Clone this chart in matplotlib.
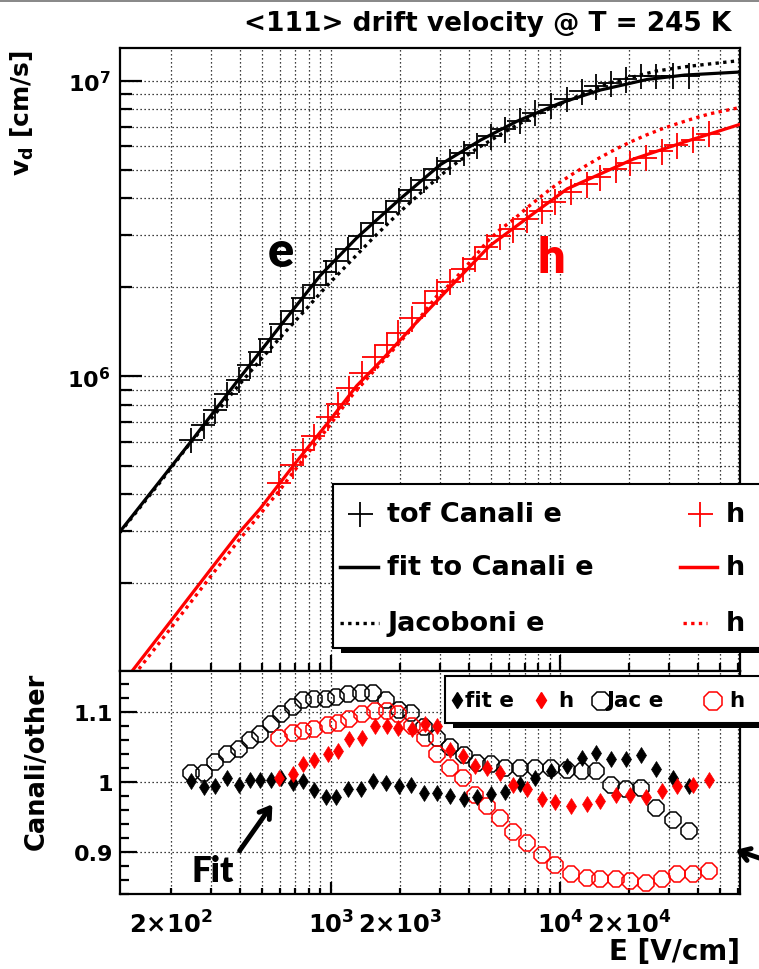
import numpy as np
import matplotlib
matplotlib.use('Agg')
import matplotlib.pyplot as plt
from matplotlib.patches import Rectangle
from matplotlib.lines import Line2D
from matplotlib.ticker import FixedLocator, NullFormatter, FuncFormatter, FixedFormatter

plt.rcParams['font.family'] = ['DejaVu Sans']
plt.rcParams['font.weight'] = 'bold'
plt.rcParams['mathtext.fontset'] = 'dejavusans'

# ---------------- data ----------------
# Canali time-of-flight data, electrons
E_e = np.array([246, 279, 313, 350, 395, 442, 492, 546, 607, 684, 757, 847, 951, 1051, 1186,
                1346, 1521, 1730, 1976, 2235, 2560, 2915, 3309, 3790, 4340, 4995, 5750, 6690,
                7780, 9135, 10700, 12440, 14420, 16700, 19420, 22580, 26330, 31250, 36570])
v_e = np.array([6.11e5, 6.85e5, 7.7e5, 8.7e5, 9.76e5, 1.093e6, 1.214e6, 1.344e6, 1.5e6, 1.67e6,
                1.84e6, 2.035e6, 2.25e6, 2.45e6, 2.70e6, 2.99e6, 3.3e6, 3.6e6, 3.93e6, 4.28e6,
                4.62e6, 5.02e6, 5.34e6, 5.7e6, 6.06e6, 6.48e6, 6.85e6, 7.33e6, 7.8e6, 8.27e6,
                8.69e6, 9.2e6, 9.58e6, 9.8e6, 1.011e7, 1.038e7, 1.038e7, 1.04e7, 1.041e7])
# Canali time-of-flight data, holes
E_h = np.array([595, 680, 757, 843, 973, 1076, 1198, 1362, 1557, 1751, 1967, 2251, 2573, 2895,
                3309, 3783, 4255, 4786, 5470, 6254, 7177, 8318, 9511, 11170, 13080, 14950,
                17560, 20220, 23750, 27810, 32330, 38200, 44740])
v_h = np.array([4.37e5, 5.02e5, 5.64e5, 6.29e5, 7.28e5, 8.08e5, 9.15e5, 1.029e6, 1.162e6,
                1.279e6, 1.408e6, 1.572e6, 1.767e6, 1.944e6, 2.092e6, 2.31e6, 2.50e6, 2.75e6,
                2.98e6, 3.15e6, 3.40e6, 3.63e6, 3.90e6, 4.22e6, 4.47e6, 4.71e6, 5.02e6, 5.28e6,
                5.50e6, 5.77e6, 6.05e6, 6.32e6, 6.62e6])

# fit to Canali (curves)
E_fit_e = np.array([120, 180, 250, 400, 600, 900, 1300, 2000, 3000, 4500, 6500, 10000, 15000,
                    24000, 35000, 61000])
v_fit_e = np.array([2.99e5, 4.45e5, 6.15e5, 9.9e5, 1.48e6, 2.2e6, 2.95e6, 3.98e6, 5.2e6, 6.3e6,
                    7.3e6, 8.4e6, 9.3e6, 1.01e7, 1.045e7, 1.07e7])
E_fit_h = np.array([120, 200, 300, 401, 490, 700, 973, 1295, 1637, 2280, 3300, 4943, 7000,
                    10740, 20860, 35000, 61000])
v_fit_h = np.array([8.94e4, 1.49e5, 2.24e5, 2.99e5, 3.57e5, 5.1e5, 7.0e5, 9.3e5, 1.12e6, 1.48e6,
                    2.0e6, 2.77e6, 3.38e6, 4.31e6, 5.43e6, 6.21e6, 7.12e6])

# Jacoboni (curves)
E_jac_e = np.array([120, 180, 246, 313, 395, 492, 607, 757, 951, 1186, 1521, 1976, 2560, 3309,
                    4340, 5750, 7780, 10700, 14420, 16700, 22580, 26330, 31250, 36570, 61000])
v_jac_e = np.array([2.97e5, 4.4e5, 6.03e5, 7.49e5, 9.32e5, 1.137e6, 1.367e6, 1.649e6, 2.01e6,
                    2.40e6, 2.93e6, 3.57e6, 4.29e6, 5.09e6, 5.90e6, 6.72e6, 7.65e6, 8.54e6,
                    9.44e6, 9.84e6, 1.047e7, 1.078e7, 1.10e7, 1.119e7, 1.17e7])
E_jac_h = np.array([120, 200, 300, 400, 595, 757, 973, 1198, 1557, 1967, 2251, 2573, 2895, 3309,
                    3783, 4255, 4786, 5470, 6254, 7177, 8318, 9511, 11170, 13080, 14950, 17560,
                    20220, 23750, 27810, 32330, 38200, 44740, 61000])
v_jac_h = np.array([8.5e4, 1.41e5, 2.12e5, 2.82e5, 4.11e5, 5.26e5, 6.73e5, 8.39e5, 1.055e6,
                    1.285e6, 1.456e6, 1.664e6, 1.869e6, 2.051e6, 2.30e6, 2.55e6, 2.85e6, 3.14e6,
                    3.39e6, 3.72e6, 4.08e6, 4.42e6, 4.80e6, 5.18e6, 5.50e6, 5.88e6, 6.20e6,
                    6.55e6, 6.87e6, 7.15e6, 7.45e6, 7.72e6, 8.12e6])

# ratio panel: Canali / other
r_fit_e = np.array([1.001, 0.992, 0.994, 1.006, 0.996, 1.003, 1.003, 1.003, 1.006, 0.999, 1.001,
                    0.988, 0.978, 0.979, 0.990, 0.990, 1.001, 0.999, 0.994, 0.996, 0.984, 0.984,
                    0.980, 0.975, 0.978, 0.982, 0.985, 0.997, 1.006, 1.015, 1.022, 1.034, 1.041,
                    1.032, 1.032, 1.038, 1.018, 1.005, 0.994])
r_jac_e = np.array([1.013, 1.013, 1.028, 1.040, 1.047, 1.059, 1.068, 1.082, 1.097, 1.106, 1.116,
                    1.118, 1.118, 1.121, 1.125, 1.126, 1.127, 1.116, 1.102, 1.098, 1.078, 1.063,
                    1.050, 1.038, 1.027, 1.025, 1.020, 1.020, 1.020, 1.019, 1.017, 1.016, 1.015,
                    0.996, 0.990, 0.991, 0.963, 0.945, 0.930])
r_fit_h = np.array([1.006, 1.011, 1.025, 1.031, 1.040, 1.044, 1.061, 1.063, 1.080, 1.080, 1.077,
                    1.075, 1.083, 1.080, 1.046, 1.037, 1.022, 1.020, 1.013, 0.996, 0.990, 0.975,
                    0.971, 0.965, 0.968, 0.973, 0.981, 0.981, 0.978, 0.987, 0.994, 0.996, 1.002])
r_jac_h = np.array([1.063, 1.069, 1.072, 1.076, 1.081, 1.084, 1.090, 1.096, 1.101, 1.101, 1.096,
                    1.080, 1.062, 1.040, 1.020, 1.005, 0.981, 0.966, 0.949, 0.929, 0.913, 0.895,
                    0.882, 0.869, 0.863, 0.861, 0.861, 0.859, 0.855, 0.862, 0.868, 0.869, 0.873])

x_ticklabels = {200: r'$\mathbf{2{\times}10^{2}}$', 1000: r'$\mathbf{10^{3}}$',
                2000: r'$\mathbf{2{\times}10^{3}}$', 10000: r'$\mathbf{10^{4}}$',
                20000: r'$\mathbf{2{\times}10^{4}}$'}

# ---------------- layout ----------------
W, H = 759, 970
fig = plt.figure(figsize=(W / 100, H / 100), dpi=100)
fig.patch.set_facecolor('white')


def fx(px):
    return px / W


def fy(py):
    return 1 - py / H


L, R = 120, 740
ax1 = fig.add_axes([fx(L), fy(672), fx(R) - fx(L), fy(49) - fy(672)])
ax2 = fig.add_axes([fx(L), fy(895), fx(R) - fx(L), fy(672) - fy(895)])

RED = '#ff0000'
dotted = (0, (1.0, 1.3))

# ---------------- top panel ----------------
ax1.set_xscale('log')
ax1.set_yscale('log')
ax1.set_xlim(120, 6.1e4)
ax1.set_ylim(1.01e5, 1.29e7)

ax1.errorbar(E_e, v_e, xerr=0.12 * E_e, yerr=0.10 * v_e, fmt='none', ecolor='black',
             elinewidth=1.3, capsize=0, zorder=3)
ax1.errorbar(E_h, v_h, xerr=0.12 * E_h, yerr=0.10 * v_h, fmt='none', ecolor=RED,
             elinewidth=1.3, capsize=0, zorder=3)
ax1.plot(E_jac_e, v_jac_e, color='black', lw=2.4, ls=dotted, zorder=4)
ax1.plot(E_jac_h, v_jac_h, color=RED, lw=2.4, ls=dotted, zorder=4)
ax1.plot(E_fit_e, v_fit_e, color='black', lw=2.3, zorder=5)
ax1.plot(E_fit_h, v_fit_h, color=RED, lw=2.3, zorder=5)

minor_x = [m * 10 ** k for k in (2, 3, 4) for m in range(2, 10) if 120 < m * 10 ** k < 6.1e4]
for ax in (ax1, ax2):
    ax.set_xscale('log')
    ax.set_xlim(120, 6.1e4)
    ax.xaxis.set_major_locator(FixedLocator([1e3, 1e4]))
    ax.xaxis.set_minor_locator(FixedLocator(minor_x))
    ax.set_axisbelow(True)
    for s in ax.spines.values():
        s.set_linewidth(1.6)
    ax.tick_params(axis='both', which='both', direction='in', top=False, right=False,
                   width=1.6, colors='black')

ax1.xaxis.set_major_formatter(NullFormatter())
ax1.xaxis.set_minor_formatter(NullFormatter())
ax1.yaxis.set_major_locator(FixedLocator([1e6, 1e7]))
ax1.yaxis.set_minor_locator(FixedLocator([m * 10 ** k for k in (5, 6) for m in range(2, 10)]))
ax1.yaxis.set_major_formatter(FuncFormatter(lambda v, p: r'$\mathbf{10^{%d}}$' % round(np.log10(v))))
ax1.yaxis.set_minor_formatter(NullFormatter())
ax1.tick_params(axis='y', which='major', length=16, pad=7, labelsize=16)
ax1.tick_params(axis='y', which='minor', length=8.6)
ax1.tick_params(axis='x', which='major', length=11.5)
ax1.tick_params(axis='x', which='minor', length=6)
ax1.grid(True, which='both', axis='both', color='black', ls=(0, (1, 2.2)), lw=0.9)

# ---------------- bottom panel ----------------
ax2.set_ylim(0.84, 1.158)
ax2.plot(E_e, r_jac_e, ls='none', marker='8', ms=12, mfc='none', mec='black', mew=1.1, zorder=3)
ax2.plot(E_h, r_jac_h, ls='none', marker='8', ms=12, mfc='none', mec=RED, mew=1.1, zorder=3)
ax2.plot(E_e, r_fit_e, ls='none', marker='d', ms=8.5, mfc='black', mec='black', mew=0.5, zorder=4)
ax2.plot(E_h, r_fit_h, ls='none', marker='d', ms=8.5, mfc=RED, mec=RED, mew=0.5, zorder=5)

ax2.yaxis.set_major_locator(FixedLocator([0.9, 1.0, 1.1]))
ax2.yaxis.set_major_formatter(FixedFormatter(['0.9', '1', '1.1']))
ax2.yaxis.set_minor_locator(FixedLocator([0.84, 0.86, 0.88, 0.92, 0.94, 0.96, 0.98, 1.02, 1.04,
                                          1.06, 1.08, 1.12, 1.14]))
ax2.xaxis.set_major_formatter(FuncFormatter(lambda v, p: x_ticklabels.get(int(round(v)), '')))
ax2.xaxis.set_minor_formatter(FuncFormatter(lambda v, p: x_ticklabels.get(int(round(v)), '')))
ax2.tick_params(axis='y', which='major', length=12, pad=5, labelsize=16)
ax2.tick_params(axis='y', which='minor', length=6.5)
ax2.tick_params(axis='x', which='major', length=8.6, pad=12, labelsize=17.5)
ax2.tick_params(axis='x', which='minor', length=4.3, pad=12, labelsize=17.5)
ax2.xaxis.grid(True, which='both', color='black', ls=(0, (1, 2.2)), lw=0.9)
ax2.yaxis.grid(True, which='major', color='black', ls=(0, (1, 2.2)), lw=0.9)

# ---------------- texts ----------------
fig.add_artist(Rectangle((0, fy(3)), 1, fy(0) - fy(3), transform=fig.transFigure,
                         facecolor='#8a8a8a', edgecolor='none'))
fig.text(fx(731), fy(24), '<111> drift velocity @ T = 245 K', ha='right', va='center',
         fontsize=19, fontweight='bold')
fig.text(fx(22), fy(50), r'v$_{\mathbf{d}}$ [cm/s]', rotation=90, ha='center', va='top',
         fontsize=18, fontweight='bold')
fig.text(fx(37), fy(673), 'Canali/other', rotation=90, ha='center', va='top',
         fontsize=18.5, fontweight='bold')
fig.text(fx(740), fy(952), 'E [V/cm]', ha='right', va='center', fontsize=20, fontweight='bold')

fig.text(fx(281), fy(267), 'e', ha='center', va='baseline', fontsize=35, color='black',
         family=['Lato', 'DejaVu Sans'], fontweight='heavy')
fig.text(fx(551), fy(273), 'h', ha='center', va='baseline', fontsize=35, color=RED,
         family=['Lato', 'DejaVu Sans'], fontweight='heavy')
fig.text(fx(213), fy(882), 'Fit', ha='center', va='baseline', fontsize=25, color='black',
         family=['Lato', 'DejaVu Sans'], fontweight='heavy')

ax2.annotate('', xy=(fx(274), fy(803)), xycoords='figure fraction',
             xytext=(fx(238), fy(854)), textcoords='figure fraction',
             arrowprops=dict(arrowstyle='->,head_length=0.7,head_width=0.45', lw=3.5,
                             color='black'), annotation_clip=False)
ax2.annotate('', xy=(fx(733), fy(850)), xycoords='figure fraction',
             xytext=(fx(765), fy(861)), textcoords='figure fraction',
             arrowprops=dict(arrowstyle='->,head_length=0.7,head_width=0.45', lw=3.5,
                             color='black'), annotation_clip=False)

# ---------------- top legend ----------------
def frect(x0, y0, x1, y1, **kw):
    r = Rectangle((fx(x0), fy(y1)), fx(x1) - fx(x0), fy(y0) - fy(y1),
                  transform=fig.transFigure, **kw)
    fig.add_artist(r)


def fline(xs, ys, **kw):
    fig.add_artist(Line2D([fx(x) for x in xs], [fy(y) for y in ys],
                          transform=fig.transFigure, **kw))


frect(341, 489, 780, 654, facecolor='black', edgecolor='none', zorder=5)
frect(333, 485, 775, 649, facecolor='white', edgecolor='black', lw=1.5, zorder=6)
fline([360], [515], marker='+', ms=18, mew=1.3, color='black', zorder=7)
fline([700], [515], marker='+', ms=18, mew=1.3, color=RED, zorder=7)
fline([340, 378], [568, 568], color='black', lw=2.5, zorder=7)
fline([680, 717], [568, 568], color=RED, lw=2.5, zorder=7)
fline([340, 379], [624, 624], color='black', lw=2.4, ls=dotted, zorder=7)
fline([683, 707], [624, 624], color=RED, lw=2.4, ls=dotted, zorder=7)
for y, s in ((515, 'tof Canali e'), (568, 'fit to Canali e'), (624, 'Jacoboni e')):
    fig.text(fx(387), fy(y), s, ha='left', va='center', fontsize=19.5, fontweight='bold', zorder=8)
    fig.text(fx(726), fy(y), 'h', ha='left', va='center', fontsize=19.5, fontweight='bold', zorder=8)

# ---------------- bottom legend ----------------
frect(453, 681, 780, 729, facecolor='black', edgecolor='none', zorder=5)
frect(445, 677, 775, 724, facecolor='white', edgecolor='black', lw=1.5, zorder=6)
fline([457], [701], marker='d', ms=8.5, mfc='black', mec='black', ls='none', zorder=7)
fline([541], [701], marker='d', ms=8.5, mfc=RED, mec=RED, ls='none', zorder=7)
fline([601], [702], marker='8', ms=13.5, mfc='none', mec='black', mew=1.1, ls='none', zorder=7)
fline([713], [702], marker='8', ms=13.5, mfc='none', mec=RED, mew=1.1, ls='none', zorder=7)
fig.text(fx(465), fy(701), 'fit e', ha='left', va='center', fontsize=15.5, fontweight='bold', zorder=8)
fig.text(fx(558), fy(701), 'h', ha='left', va='center', fontsize=15.5, fontweight='bold', zorder=8)
fig.text(fx(606), fy(701), 'Jac e', ha='left', va='center', fontsize=15.5, fontweight='bold', zorder=8)
fig.text(fx(729), fy(701), 'h', ha='left', va='center', fontsize=15.5, fontweight='bold', zorder=8)

fig.savefig('out.png', dpi=100)
